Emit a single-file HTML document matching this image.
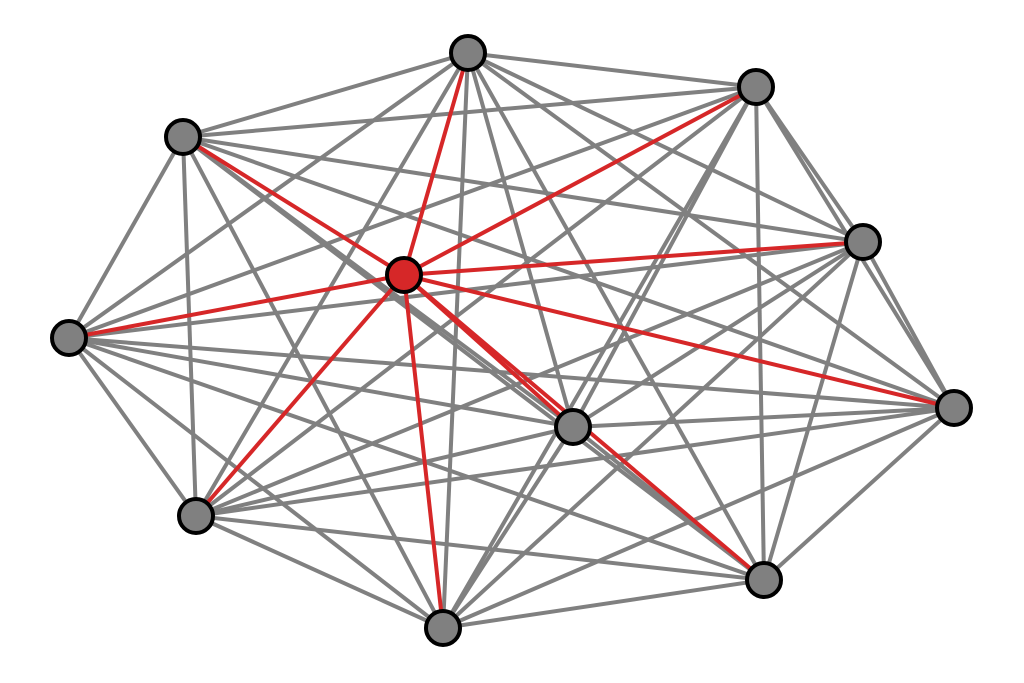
<!DOCTYPE html>
<html><head><meta charset="utf-8"><style>html,body{margin:0;padding:0;background:#fff}svg{display:block}</style></head>
<body>
<svg width="1024" height="683" viewBox="0 0 1024 683" xmlns="http://www.w3.org/2000/svg">
<g stroke="#808080" stroke-width="4">
<line x1="468" y1="53" x2="756" y2="87"/><line x1="468" y1="53" x2="183" y2="137"/><line x1="468" y1="53" x2="863" y2="242"/><line x1="468" y1="53" x2="69" y2="338"/><line x1="468" y1="53" x2="954" y2="408"/><line x1="468" y1="53" x2="573" y2="427"/><line x1="468" y1="53" x2="196" y2="516"/><line x1="468" y1="53" x2="764" y2="580"/><line x1="468" y1="53" x2="443" y2="628"/>
<line x1="756" y1="87" x2="183" y2="137"/><line x1="756" y1="87" x2="863" y2="242"/><line x1="756" y1="87" x2="69" y2="338"/><line x1="756" y1="87" x2="954" y2="408"/><line x1="756" y1="87" x2="573" y2="427"/><line x1="756" y1="87" x2="196" y2="516"/><line x1="756" y1="87" x2="764" y2="580"/><line x1="756" y1="87" x2="443" y2="628"/>
<line x1="183" y1="137" x2="863" y2="242"/><line x1="183" y1="137" x2="69" y2="338"/><line x1="183" y1="137" x2="954" y2="408"/><line x1="183" y1="137" x2="573" y2="427"/><line x1="183" y1="137" x2="196" y2="516"/><line x1="183" y1="137" x2="764" y2="580"/><line x1="183" y1="137" x2="443" y2="628"/>
<line x1="863" y1="242" x2="69" y2="338"/><line x1="863" y1="242" x2="954" y2="408"/><line x1="863" y1="242" x2="573" y2="427"/><line x1="863" y1="242" x2="196" y2="516"/><line x1="863" y1="242" x2="764" y2="580"/><line x1="863" y1="242" x2="443" y2="628"/>
<line x1="69" y1="338" x2="954" y2="408"/><line x1="69" y1="338" x2="573" y2="427"/><line x1="69" y1="338" x2="196" y2="516"/><line x1="69" y1="338" x2="764" y2="580"/><line x1="69" y1="338" x2="443" y2="628"/>
<line x1="954" y1="408" x2="573" y2="427"/><line x1="954" y1="408" x2="196" y2="516"/><line x1="954" y1="408" x2="764" y2="580"/><line x1="954" y1="408" x2="443" y2="628"/>
<line x1="573" y1="427" x2="196" y2="516"/><line x1="573" y1="427" x2="764" y2="580"/><line x1="573" y1="427" x2="443" y2="628"/>
<line x1="196" y1="516" x2="764" y2="580"/><line x1="196" y1="516" x2="443" y2="628"/>
<line x1="764" y1="580" x2="443" y2="628"/>
</g>
<g stroke="#d62728" stroke-width="4">
<line x1="404" y1="275" x2="468" y2="53"/><line x1="404" y1="275" x2="756" y2="87"/><line x1="404" y1="275" x2="183" y2="137"/><line x1="404" y1="275" x2="863" y2="242"/><line x1="404" y1="275" x2="69" y2="338"/><line x1="404" y1="275" x2="954" y2="408"/><line x1="404" y1="275" x2="573" y2="427"/><line x1="404" y1="275" x2="196" y2="516"/><line x1="404" y1="275" x2="764" y2="580"/><line x1="404" y1="275" x2="443" y2="628"/>
</g>
<g stroke="#000" stroke-width="4" fill="#808080">
<circle cx="468" cy="53" r="17"/><circle cx="756" cy="87" r="17"/><circle cx="183" cy="137" r="17"/><circle cx="863" cy="242" r="17"/><circle cx="69" cy="338" r="17"/><circle cx="954" cy="408" r="17"/><circle cx="573" cy="427" r="17"/><circle cx="196" cy="516" r="17"/><circle cx="764" cy="580" r="17"/><circle cx="443" cy="628" r="17"/>
<circle cx="404" cy="275" r="17" fill="#d62728"/>
</g>
</svg>
</body></html>
